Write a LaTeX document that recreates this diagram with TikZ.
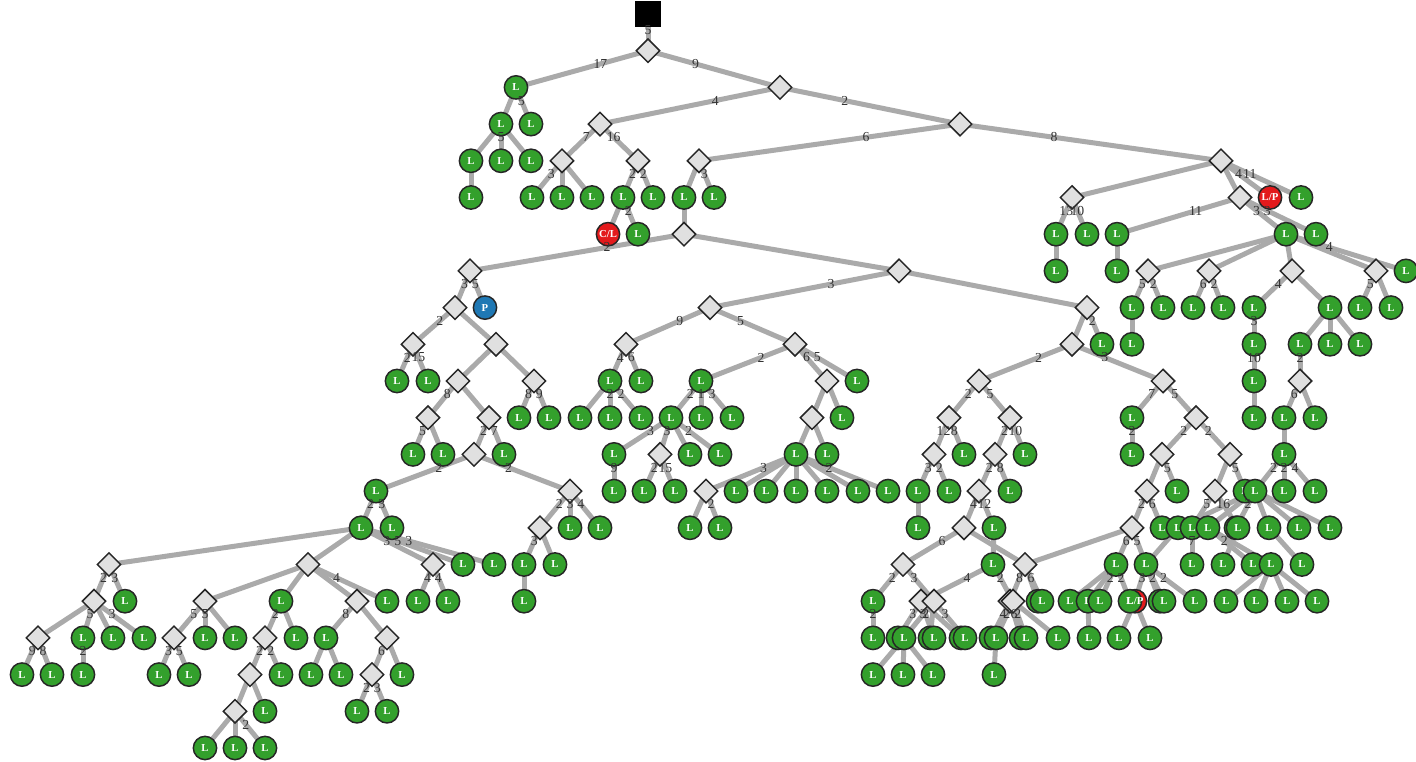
\documentclass[tikz,border=0pt]{standalone}
\usepackage{fontspec}
\setmainfont{Liberation Serif}
\usetikzlibrary{shapes.geometric}
\pgfdeclarelayer{background}
\pgfsetlayers{background,main}
\definecolor{gr}{RGB}{51,160,44}
\definecolor{rd}{RGB}{227,26,28}
\definecolor{bl}{RGB}{31,120,180}
\definecolor{dm}{RGB}{224,224,224}
\definecolor{eg}{RGB}{170,170,170}
\definecolor{tx}{RGB}{51,51,51}
\tikzset{
 leaf/.style={circle, draw=black!85, line width=1.1pt, fill=gr, minimum size=17.5pt, inner sep=0pt, text=white, font=\fontsize{8}{9}\selectfont\bfseries},
 redleaf/.style={leaf, fill=rd},
 blueleaf/.style={leaf, fill=bl},
 dmd/.style={diamond, draw=black!85, line width=1.1pt, fill=dm, minimum width=18pt, minimum height=18pt, inner sep=0pt},
 rootsq/.style={rectangle, fill=black, draw=black, minimum size=18.5pt, inner sep=0pt},
 edge/.style={draw=eg, line width=3.75pt},
 lab/.style={pos=0.36, text=tx, font=\fontsize{10.3}{12}\selectfont, inner sep=0pt}
}
\newcommand\Lf[2]{\node[leaf] (n#1r#2) at (#1,{14+36.7*#2}) {L};}
\newcommand\Dm[2]{\node[dmd] (n#1r#2) at (#1,{14+36.7*#2}) {};}
\newcommand\Rd[3]{\node[redleaf] (n#1r#2) at (#1,{14+36.7*#2}) {#3};}
\newcommand\EcLine[3]{\draw[edge] (#1.center) -- (#2.center);}
\newcommand\EcLab[3]{\path (#1.center) -- node[lab]{#3} (#2.center);}
\newcommand\Ed[4]{\edef\tmpc{\noexpand\Ec{n#2r#1}{n#3r\the\numexpr#1+1\relax}}\tmpc{#4}}
\newcommand\alledges{%
\Ed{1}{648}{516}{17}\Ed{1}{648}{780}{9}%
\Ed{2}{516}{501}{}\Ed{2}{516}{531}{5}\Ed{2}{780}{600}{4}\Ed{2}{780}{960}{2}%
\Ed{3}{501}{471}{}\Ed{3}{501}{501}{5}\Ed{3}{501}{531}{}\Ed{3}{600}{562}{7}\Ed{3}{600}{638}{16}\Ed{3}{960}{699}{6}\Ed{3}{960}{1221}{8}%
\Ed{4}{471}{471}{}\Ed{4}{562}{532}{3}\Ed{4}{562}{562}{}\Ed{4}{562}{592}{}\Ed{4}{638}{623}{2}\Ed{4}{638}{653}{2}\Ed{4}{699}{684}{}\Ed{4}{699}{714}{3}\Ed{4}{1221}{1072}{}\Ed{4}{1221}{1240}{}\Ed{4}{1221}{1270}{4}\Ed{4}{1221}{1301}{11}%
\Ed{5}{623}{608}{}\Ed{5}{623}{638}{2}\Ed{5}{684}{684}{}\Ed{5}{1072}{1056}{13}\Ed{5}{1072}{1087}{10}\Ed{5}{1240}{1117}{11}\Ed{5}{1240}{1286}{3}\Ed{5}{1240}{1316}{3}%
\Ed{6}{684}{470}{2}\Ed{6}{684}{899}{}\Ed{6}{1056}{1056}{}\Ed{6}{1117}{1117}{}\Ed{6}{1286}{1148}{}\Ed{6}{1286}{1209}{}\Ed{6}{1286}{1292}{}\Ed{6}{1286}{1376}{}\Ed{6}{1286}{1406}{4}%
\Ed{7}{470}{455}{3}\Ed{7}{470}{485}{5}\Ed{7}{899}{710}{3}\Ed{7}{899}{1087}{}\Ed{7}{1148}{1132}{5}\Ed{7}{1148}{1163}{2}\Ed{7}{1209}{1193}{6}\Ed{7}{1209}{1223}{2}\Ed{7}{1292}{1254}{4}\Ed{7}{1292}{1330}{}\Ed{7}{1376}{1360}{5}\Ed{7}{1376}{1391}{}%
\Ed{8}{455}{413}{2}\Ed{8}{455}{496}{}\Ed{8}{710}{626}{9}\Ed{8}{710}{795}{5}\Ed{8}{1087}{1072}{}\Ed{8}{1087}{1102}{2}\Ed{8}{1132}{1132}{}\Ed{8}{1254}{1254}{3}\Ed{8}{1330}{1300}{}\Ed{8}{1330}{1330}{}\Ed{8}{1330}{1360}{}%
\Ed{9}{413}{397}{2}\Ed{9}{413}{428}{15}\Ed{9}{496}{458}{}\Ed{9}{496}{534}{}\Ed{9}{626}{610}{4}\Ed{9}{626}{641}{6}\Ed{9}{795}{701}{2}\Ed{9}{795}{827}{6}\Ed{9}{795}{857}{5}\Ed{9}{1072}{979}{2}\Ed{9}{1072}{1163}{3}\Ed{9}{1254}{1254}{10}\Ed{9}{1300}{1300}{2}%
\Ed{10}{458}{428}{8}\Ed{10}{458}{489}{}\Ed{10}{534}{519}{8}\Ed{10}{534}{549}{9}\Ed{10}{610}{580}{}\Ed{10}{610}{610}{2}\Ed{10}{610}{641}{2}\Ed{10}{701}{671}{2}\Ed{10}{701}{701}{1}\Ed{10}{701}{732}{3}\Ed{10}{827}{812}{}\Ed{10}{827}{842}{}\Ed{10}{979}{949}{2}\Ed{10}{979}{1010}{5}\Ed{10}{1163}{1132}{7}\Ed{10}{1163}{1196}{5}\Ed{10}{1254}{1254}{}\Ed{10}{1300}{1284}{6}\Ed{10}{1300}{1315}{}%
\Ed{11}{428}{413}{5}\Ed{11}{428}{443}{}\Ed{11}{489}{474}{2}\Ed{11}{489}{504}{7}\Ed{11}{671}{614}{3}\Ed{11}{671}{660}{3}\Ed{11}{671}{690}{}\Ed{11}{671}{720}{2}\Ed{11}{812}{796}{}\Ed{11}{812}{827}{}\Ed{11}{949}{934}{12}\Ed{11}{949}{964}{8}\Ed{11}{1010}{995}{2}\Ed{11}{1010}{1025}{10}\Ed{11}{1132}{1132}{2}\Ed{11}{1196}{1162}{2}\Ed{11}{1196}{1230}{2}\Ed{11}{1284}{1284}{}%
\Ed{12}{474}{376}{2}\Ed{12}{474}{570}{2}\Ed{12}{614}{614}{9}\Ed{12}{660}{644}{2}\Ed{12}{660}{675}{15}\Ed{12}{796}{706}{3}\Ed{12}{796}{736}{}\Ed{12}{796}{766}{}\Ed{12}{796}{796}{}\Ed{12}{796}{827}{}\Ed{12}{796}{858}{}\Ed{12}{796}{888}{2}\Ed{12}{934}{918}{3}\Ed{12}{934}{949}{2}\Ed{12}{995}{979}{2}\Ed{12}{995}{1010}{8}\Ed{12}{1162}{1147}{}\Ed{12}{1162}{1177}{5}\Ed{12}{1230}{1215}{}\Ed{12}{1230}{1245}{5}\Ed{12}{1284}{1255}{2}\Ed{12}{1284}{1284}{2}\Ed{12}{1284}{1315}{4}%
\Ed{13}{376}{361}{2}\Ed{13}{376}{392}{3}\Ed{13}{570}{540}{2}\Ed{13}{570}{570}{3}\Ed{13}{570}{600}{4}\Ed{13}{706}{690}{}\Ed{13}{706}{720}{2}\Ed{13}{918}{918}{}\Ed{13}{979}{964}{4}\Ed{13}{979}{994}{12}\Ed{13}{1147}{1132}{2}\Ed{13}{1147}{1162}{6}\Ed{13}{1215}{1192}{5}\Ed{13}{1215}{1238}{16}\Ed{13}{1255}{1236}{2}\Ed{13}{1255}{1178}{}\Ed{13}{1255}{1208}{}\Ed{13}{1255}{1269}{}\Ed{13}{1255}{1299}{}\Ed{13}{1255}{1330}{}%
\Ed{14}{361}{109}{}\Ed{14}{361}{308}{}\Ed{14}{361}{433}{3}\Ed{14}{361}{463}{5}\Ed{14}{361}{494}{3}\Ed{14}{540}{524}{3}\Ed{14}{540}{555}{}\Ed{14}{964}{903}{6}\Ed{14}{964}{1025}{}\Ed{14}{994}{993}{}\Ed{14}{1132}{1025}{}\Ed{14}{1132}{1116}{6}\Ed{14}{1132}{1146}{5}\Ed{14}{1178}{1146}{}\Ed{14}{1192}{1192}{7}\Ed{14}{1208}{1253}{2}\Ed{14}{1208}{1271}{}\Ed{14}{1238}{1223}{}\Ed{14}{1269}{1302}{}%
\Ed{15}{109}{94}{2}\Ed{15}{109}{125}{3}\Ed{15}{308}{205}{}\Ed{15}{308}{281}{}\Ed{15}{308}{357}{}\Ed{15}{308}{387}{4}\Ed{15}{433}{418}{4}\Ed{15}{433}{448}{4}\Ed{15}{524}{524}{}\Ed{15}{903}{873}{2}\Ed{15}{903}{934}{3}\Ed{15}{993}{921}{4}\Ed{15}{993}{1013}{2}\Ed{15}{1025}{1010}{8}\Ed{15}{1025}{1042}{6}\Ed{15}{1025}{1038}{}\Ed{15}{1116}{1070}{}\Ed{15}{1116}{1088}{}\Ed{15}{1116}{1100}{2}\Ed{15}{1116}{1130}{2}\Ed{15}{1146}{1135}{3}\Ed{15}{1146}{1160}{}\Ed{15}{1146}{1164}{2}\Ed{15}{1146}{1195}{2}\Ed{15}{1271}{1226}{}\Ed{15}{1271}{1256}{}\Ed{15}{1271}{1287}{}\Ed{15}{1271}{1317}{}%
\Ed{16}{94}{38}{}\Ed{16}{94}{83}{5}\Ed{16}{94}{113}{}\Ed{16}{94}{144}{3}\Ed{16}{205}{174}{5}\Ed{16}{205}{205}{5}\Ed{16}{205}{235}{}\Ed{16}{281}{265}{2}\Ed{16}{281}{296}{}\Ed{16}{357}{326}{8}\Ed{16}{357}{387}{}\Ed{16}{873}{873}{2}\Ed{16}{921}{898}{3}\Ed{16}{921}{934}{2}\Ed{16}{921}{961}{}\Ed{16}{934}{904}{3}\Ed{16}{934}{930}{}\Ed{16}{934}{965}{3}\Ed{16}{1010}{991}{4}\Ed{16}{1013}{996}{2}\Ed{16}{1010}{1021}{6}\Ed{16}{1013}{1026}{2}\Ed{16}{1013}{1058}{}\Ed{16}{1088}{1089}{}\Ed{16}{1135}{1119}{}\Ed{16}{1135}{1150}{}%
\Ed{17}{38}{22}{9}\Ed{17}{38}{52}{8}\Ed{17}{83}{83}{2}\Ed{17}{174}{159}{3}\Ed{17}{174}{189}{5}\Ed{17}{265}{250}{2}\Ed{17}{265}{281}{2}\Ed{17}{326}{311}{}\Ed{17}{326}{341}{}\Ed{17}{387}{372}{6}\Ed{17}{387}{402}{}\Ed{17}{904}{873}{}\Ed{17}{904}{903}{}\Ed{17}{904}{933}{}\Ed{17}{996}{994}{}%
\Ed{18}{250}{235}{}\Ed{18}{250}{265}{}\Ed{18}{372}{357}{2}\Ed{18}{372}{387}{3}%
\Ed{19}{235}{205}{}\Ed{19}{235}{235}{}\Ed{19}{235}{265}{2}%
}
\begin{document}
\begin{tikzpicture}[x=0.75pt,y=-0.75pt]
\useasboundingbox (0,0) rectangle (1416,762);
% nodes
\node[rootsq] (n648r0) at (648,14) {};
\Dm{648}{1}
\Lf{516}{2}\Dm{780}{2}
\Lf{501}{3}\Lf{531}{3}\Dm{600}{3}\Dm{960}{3}
\Lf{471}{4}\Lf{501}{4}\Lf{531}{4}\Dm{562}{4}\Dm{638}{4}\Dm{699}{4}\Dm{1221}{4}
\Lf{471}{5}\Lf{532}{5}\Lf{562}{5}\Lf{592}{5}\Lf{623}{5}\Lf{653}{5}\Lf{684}{5}\Lf{714}{5}\Dm{1072}{5}\Dm{1240}{5}\Rd{1270}{5}{L/P}\Lf{1301}{5}
\Rd{608}{6}{C/L}\Lf{638}{6}\Dm{684}{6}\Lf{1056}{6}\Lf{1087}{6}\Lf{1117}{6}\Lf{1286}{6}\Lf{1316}{6}
\Dm{470}{7}\Dm{899}{7}\Lf{1056}{7}\Lf{1117}{7}\Dm{1148}{7}\Dm{1209}{7}\Dm{1292}{7}\Dm{1376}{7}\Lf{1406}{7}
\Dm{455}{8}\node[blueleaf] (n485r8) at (485,{14+36.7*8}) {P};\Dm{710}{8}\Dm{1087}{8}\Lf{1132}{8}\Lf{1163}{8}\Lf{1193}{8}\Lf{1223}{8}\Lf{1254}{8}\Lf{1330}{8}\Lf{1360}{8}\Lf{1391}{8}
\Dm{413}{9}\Dm{496}{9}\Dm{626}{9}\Dm{795}{9}\Dm{1072}{9}\Lf{1102}{9}\Lf{1132}{9}\Lf{1254}{9}\Lf{1300}{9}\Lf{1330}{9}\Lf{1360}{9}
\Lf{397}{10}\Lf{428}{10}\Dm{458}{10}\Dm{534}{10}\Lf{610}{10}\Lf{641}{10}\Lf{701}{10}\Dm{827}{10}\Lf{857}{10}\Dm{979}{10}\Dm{1163}{10}\Lf{1254}{10}\Dm{1300}{10}
\Dm{428}{11}\Dm{489}{11}\Lf{519}{11}\Lf{549}{11}\Lf{580}{11}\Lf{610}{11}\Lf{641}{11}\Lf{671}{11}\Lf{701}{11}\Lf{732}{11}\Dm{812}{11}\Lf{842}{11}\Dm{949}{11}\Dm{1010}{11}\Lf{1132}{11}\Dm{1196}{11}\Lf{1254}{11}\Lf{1284}{11}\Lf{1315}{11}
\Lf{413}{12}\Lf{443}{12}\Dm{474}{12}\Lf{504}{12}\Lf{614}{12}\Dm{660}{12}\Lf{690}{12}\Lf{720}{12}\Lf{796}{12}\Lf{827}{12}\Dm{934}{12}\Lf{964}{12}\Dm{995}{12}\Lf{1025}{12}\Lf{1132}{12}\Dm{1162}{12}\Dm{1230}{12}\Lf{1284}{12}
\Lf{376}{13}\Dm{570}{13}\Lf{614}{13}\Lf{644}{13}\Lf{675}{13}\Dm{706}{13}\Lf{736}{13}\Lf{766}{13}\Lf{796}{13}\Lf{827}{13}\Lf{858}{13}\Lf{888}{13}\Lf{918}{13}\Lf{949}{13}\Dm{979}{13}\Lf{1010}{13}\Dm{1147}{13}\Lf{1177}{13}\Dm{1215}{13}\Lf{1245}{13}\Lf{1255}{13}\Lf{1284}{13}\Lf{1315}{13}
\Lf{361}{14}\Lf{392}{14}\Dm{540}{14}\Lf{570}{14}\Lf{600}{14}\Lf{690}{14}\Lf{720}{14}\Lf{918}{14}\Dm{964}{14}\Lf{994}{14}\Dm{1132}{14}\Lf{1162}{14}\Lf{1178}{14}\Lf{1192}{14}\Lf{1208}{14}\Lf{1236}{14}\Lf{1238}{14}\Lf{1269}{14}\Lf{1299}{14}\Lf{1330}{14}
\Dm{109}{15}\Dm{308}{15}\Dm{433}{15}\Lf{463}{15}\Lf{494}{15}\Lf{524}{15}\Lf{555}{15}\Dm{903}{15}\Lf{993}{15}\Dm{1025}{15}\Lf{1116}{15}\Lf{1146}{15}\Lf{1192}{15}\Lf{1223}{15}\Lf{1253}{15}\Lf{1271}{15}\Lf{1302}{15}
\Dm{94}{16}\Lf{125}{16}\Dm{205}{16}\Lf{281}{16}\Dm{357}{16}\Lf{387}{16}\Lf{418}{16}\Lf{448}{16}\Lf{524}{16}\Lf{873}{16}\Dm{921}{16}\Dm{934}{16}\Dm{1010}{16}\Dm{1013}{16}\Lf{1038}{16}\Lf{1042}{16}\Lf{1070}{16}\Lf{1088}{16}\Lf{1100}{16}\Rd{1135}{16}{L/P}\Lf{1130}{16}\node[text=white,font=\fontsize{8}{9}\selectfont\bfseries] (lpt) at (1135,{14+36.7*16}) {L/P};\Lf{1160}{16}\Lf{1164}{16}\Lf{1195}{16}\Lf{1226}{16}\Lf{1256}{16}\Lf{1287}{16}\Lf{1317}{16}
\Dm{38}{17}\Lf{83}{17}\Lf{113}{17}\Lf{144}{17}\Dm{174}{17}\Lf{205}{17}\Lf{235}{17}\Dm{265}{17}\Lf{296}{17}\Lf{326}{17}\Dm{387}{17}\Lf{873}{17}\Lf{898}{17}\Lf{904}{17}\Lf{930}{17}\Lf{934}{17}\Lf{961}{17}\Lf{965}{17}\Lf{991}{17}\Lf{996}{17}\Lf{1021}{17}\Lf{1026}{17}\Lf{1058}{17}\Lf{1089}{17}\Lf{1119}{17}\Lf{1150}{17}
\Lf{22}{18}\Lf{52}{18}\Lf{83}{18}\Lf{159}{18}\Lf{189}{18}\Dm{250}{18}\Lf{281}{18}\Lf{311}{18}\Lf{341}{18}\Dm{372}{18}\Lf{402}{18}\Lf{873}{18}\Lf{903}{18}\Lf{933}{18}\Lf{994}{18}
\Dm{235}{19}\Lf{265}{19}\Lf{357}{19}\Lf{387}{19}
\Lf{205}{20}\Lf{235}{20}\Lf{265}{20}
% edges
\begin{pgfonlayer}{background}
\draw[edge] (n648r0.center) -- (n648r1.center);
\let\Ec\EcLine
\alledges
\end{pgfonlayer}
\path (n648r0.center) -- node[lab,pos=0.45]{5} (n648r1.center);
\let\Ec\EcLab
\alledges
\end{tikzpicture}
\end{document}
